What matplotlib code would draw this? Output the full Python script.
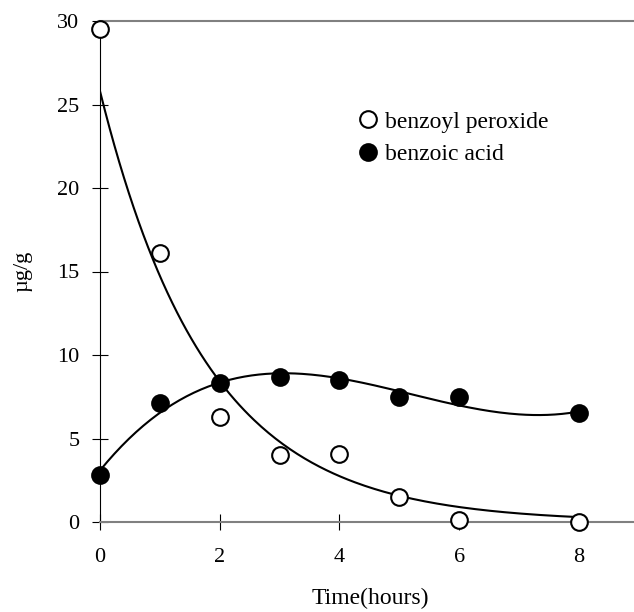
import numpy as np
import matplotlib
matplotlib.use("Agg")
import matplotlib.pyplot as plt

plt.rcParams['font.family'] = ['Liberation Serif', 'DejaVu Serif']

# data
hours = [0, 1, 2, 3, 4, 5, 6, 8]
peroxide = [29.5, 16.1, 6.3, 4.0, 4.1, 1.5, 0.1, 0.0]
acid = [2.8, 7.1, 8.3, 8.7, 8.5, 7.5, 7.5, 6.5]

# trend lines: exponential for peroxide, cubic for acid
perox_a, perox_k = 25.8, 0.56
acid_coef = np.polyfit(hours, acid, 3)

fig = plt.figure(figsize=(6.34, 6.12), dpi=100)
ax = fig.add_axes([100 / 634, 90 / 612, 534 / 634, 501 / 612])

xs = np.linspace(0, 8, 200)
ax.plot(xs, perox_a * np.exp(-perox_k * xs), color='black', lw=1.5, zorder=2)
ax.plot(xs, np.polyval(acid_coef, xs), color='black', lw=1.5, zorder=2)

ax.plot(hours, peroxide, 'o', ms=12, mfc='white', mec='black', mew=1.5,
        label='benzoyl peroxide', zorder=3, clip_on=False)
ax.plot(hours, acid, 'o', ms=12, mfc='black', mec='black', mew=1.5,
        label='benzoic acid', zorder=3, clip_on=False)

ax.set_xlim(0, 8.92)
ax.set_ylim(0, 30)
ax.set_xticks([0, 2, 4, 6, 8])
ax.set_yticks([0, 5, 10, 15, 20, 25, 30])

ax.spines['right'].set_visible(False)
for s in ['top', 'bottom']:
    ax.spines[s].set_color('#808080')
    ax.spines[s].set_linewidth(1.5)
ax.spines['left'].set_color('black')
ax.spines['left'].set_linewidth(0.8)

ax.tick_params(axis='both', direction='inout', length=11.5, width=0.8,
               color='black', labelsize=16)
ax.tick_params(axis='y', pad=9)
ax.tick_params(axis='x', pad=13)

ax.set_xlabel('Time(hours)', fontsize=17)
ax.set_ylabel('µg/g', fontsize=16)
ax.xaxis.set_label_coords(0.506, -0.132)
ax.yaxis.set_label_coords(-0.127, 0.5)

ax.legend(loc='upper left', bbox_to_anchor=(0.48, 0.82), frameon=False,
          fontsize=17, handlelength=1.0, handletextpad=0.2, borderpad=0,
          borderaxespad=0, labelspacing=0.45, numpoints=1)

fig.savefig('out.png', dpi=100)
